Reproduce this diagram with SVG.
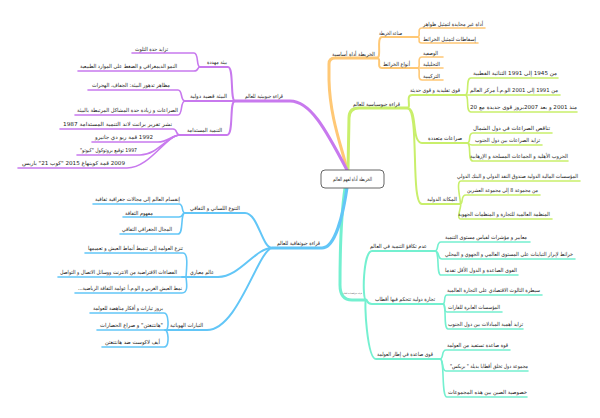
<svg xmlns="http://www.w3.org/2000/svg" width="600" height="418" viewBox="0 0 600 418">
<style>
.t{font-family:"DejaVu Sans","Noto Sans",sans-serif;font-size:5.5px;fill:#222}
.s{font-family:"DejaVu Sans","Noto Sans",sans-serif;font-size:2px;fill:#555}
path{fill:none;stroke-linecap:round;stroke-linejoin:round}
.o{stroke:#ffc875}.g{stroke:#c9ef6b}.c{stroke:#74f0d0}.b{stroke:#62c6f7}.p{stroke:#c879ee}
.w3{stroke-width:3}.w2{stroke-width:2}.w1{stroke-width:1.6}
</style>
<rect width="600" height="418" fill="#fff"/>
<g id="connectors">
<path class="o w3" d="M347,170 C343,150 330,120 329,80 L329,64 Q329,58 335,58 L377,58"/>
<path class="o w2" d="M377,58 C382,58 376,37 382,37 L417,37"/>
<path class="o w2" d="M377,58 C382,58 376,68 382,68 L417,68"/>
<path class="o w1" d="M417,37 C422,37 416,28 422,28 L485,28"/>
<path class="o w1" d="M417,37 C422,37 416,43 422,43 L478,43"/>
<path class="o w1" d="M417,68 C422,68 416,57 422,57 L443,57"/>
<path class="o w1" d="M417,68 L443,68"/>
<path class="o w1" d="M417,68 C422,68 416,80 422,80 L443,80"/>
<path class="g w3" d="M348,170 L349,118 Q349,108 359,108 L407,108"/>
<path class="g w2" d="M407,108 C412,108 405,95 412,95 L465,95"/>
<path class="g w2" d="M407,108 C418,108 411,143 422,143 L467,143"/>
<path class="g w2" d="M407,108 C420,108 410,204 422,204 L460,204"/>
<path class="g w1" d="M465,95 C470,95 465,78 471,78 L558,78"/>
<path class="g w1" d="M465,95 L560,95"/>
<path class="g w1" d="M465,95 C470,95 465,112 471,112 L577,112"/>
<path class="g w1" d="M467,143 C472,143 467,133 473,133 L552,133"/>
<path class="g w1" d="M467,143 C470,143 468,145 472,145 L542,145"/>
<path class="g w1" d="M467,143 C472,143 467,161 473,161 L568,161"/>
<path class="g w1" d="M460,204 C462,204 455,181 461,181 L580,181"/>
<path class="g w1" d="M460,204 C464,204 460,195 466,195 L540,195"/>
<path class="g w1" d="M460,204 C463,204 455,219 461,219 L552,219"/>
<path class="c w3" d="M345,188 C341,215 340,250 340,285 Q340,300 352,300 L366,300"/>
<path class="c w2" d="M366,300 C362,300 363,251 372,251 L435,251"/>
<path class="c w2" d="M366,300 C368,300 366,304 372,304 L443,304"/>
<path class="c w2" d="M366,300 C364,300 367,359 376,359 L440,359"/>
<path class="c w1" d="M435,251 C439,251 436,242 441,242 L530,242"/>
<path class="c w1" d="M435,251 C440,251 437,259 442,259 L575,259"/>
<path class="c w1" d="M435,251 C440,251 436,275 441,275 L518,275"/>
<path class="c w1" d="M443,304 C446,304 443,295 447,295 L542,295"/>
<path class="c w1" d="M443,304 C446,304 443,312 447,312 L502,312"/>
<path class="c w1" d="M443,304 C447,304 443,329 448,329 L523,329"/>
<path class="c w1" d="M440,359 C444,359 441,350 446,350 L510,350"/>
<path class="c w1" d="M440,359 C444,359 441,371 446,371 L528,371"/>
<path class="c w1" d="M440,359 C445,359 441,397 447,397 L527,397"/>
<path class="b w3" d="M347,188 C343,215 335,248 322,248 L272,248"/>
<path class="b w2" d="M272,248 C262,248 258,213 245,213 L185,213"/>
<path class="b w2" d="M272,248 C255,248 240,277 218,277 L182,277"/>
<path class="b w2" d="M272,248 C258,250 238,330 207,330 L165,330"/>
<path class="b w1" d="M185,213 C181,213 184,204 179,204 L93,204"/>
<path class="b w1" d="M185,213 C181,213 184,217 179,217 L123,217"/>
<path class="b w1" d="M185,213 C180,213 184,234 178,234 L120,234"/>
<path class="b w1" d="M186,277 C187,265 188,253 183,253 L85,253"/>
<path class="b w1" d="M186,277 L58,277"/>
<path class="b w1" d="M186,277 C187,285 188,293 182,293 L75,293"/>
<path class="b w1" d="M166,330 C169,330 169,313 164,313 L90,313"/>
<path class="b w1" d="M166,330 L97,330"/>
<path class="b w1" d="M166,330 C169,335 169,347 164,347 L102,347"/>
<path class="p w3" d="M347,170 C325,128 310,101 290,101 L235,101"/>
<path class="p w2" d="M235,101 C230,101 234,67 228,67 L200,67"/>
<path class="p w2" d="M235,101 L185,101"/>
<path class="p w2" d="M235,101 C229,101 234,135 227,135 L180,135"/>
<path class="p w1" d="M200,67 C196,67 199,53 194,53 L132,53"/>
<path class="p w1" d="M200,67 C197,67 199,71 194,71 L78,71"/>
<path class="p w1" d="M185,101 C180,101 183,90 178,90 L88,90"/>
<path class="p w1" d="M185,101 C180,101 183,115 178,115 L75,115"/>
<path class="p w1" d="M180,135 C175,135 178,129 173,129 L60,129"/>
<path class="p w1" d="M180,135 C172,135 168,142 158,142 L92,142"/>
<path class="p w1" d="M180,135 C168,135 158,155 140,155 L77,155"/>
<path class="p w1" d="M180,135 C166,135 150,168 127,168 L18,168"/>
</g>
<g id="center">
<rect x="321" y="170" width="63" height="18" rx="4" fill="#fff" stroke="#666" stroke-width="1"/>
<text class="t" x="333" y="181" textLength="39" lengthAdjust="spacingAndGlyphs">الخريطة أداة لفهم العالم</text>
</g>
<g id="orange-nodes">
<g id="n-o0"><text class="t" x="332" y="56" textLength="43" lengthAdjust="spacingAndGlyphs">الخريطة أداة أساسية</text></g>
<g id="n-o1"><text class="t" x="379" y="35" textLength="23" lengthAdjust="spacingAndGlyphs">صناعة الخريطة</text></g>
<g id="n-o2"><text class="t" x="383" y="66" textLength="27" lengthAdjust="spacingAndGlyphs">أنواع الخرائط</text></g>
<g id="n-o3"><text class="t" x="423" y="26" textLength="60" lengthAdjust="spacingAndGlyphs">أداة غير محايدة لتمثيل ظواهر</text></g>
<g id="n-o4"><text class="t" x="423" y="41" textLength="53" lengthAdjust="spacingAndGlyphs">إسقاطات لتمثيل الخرائط</text></g>
<g id="n-o5"><text class="t" x="423" y="55" textLength="15" lengthAdjust="spacingAndGlyphs">الوصفية</text></g>
<g id="n-o6"><text class="t" x="423" y="66" textLength="17" lengthAdjust="spacingAndGlyphs">التحليلية</text></g>
<g id="n-o7"><text class="t" x="423" y="78" textLength="17" lengthAdjust="spacingAndGlyphs">التركيبية</text></g>
</g>
<g id="green-nodes">
<g id="n-g0"><text class="t" x="353" y="106" textLength="47" lengthAdjust="spacingAndGlyphs">قراءة جيوسياسية للعالم</text></g>
<g id="n-g1"><text class="t" x="410" y="92" textLength="50" lengthAdjust="spacingAndGlyphs">قوى تقليدية و قوى حديثة</text></g>
<g id="n-g2"><text class="t" x="428" y="140" textLength="34" lengthAdjust="spacingAndGlyphs">صراعات متعددة</text></g>
<g id="n-g3"><text class="t" x="427" y="201" textLength="30" lengthAdjust="spacingAndGlyphs">المكانة الدولية</text></g>
<g id="n-g4"><text class="t" x="473" y="75" textLength="84" lengthAdjust="spacingAndGlyphs">&#x200F;من  1945 إلى  1991 الثنائية القطبية&#x200F;</text></g>
<g id="n-g5"><text class="t" x="470" y="91.5" textLength="88" lengthAdjust="spacingAndGlyphs">&#x200F;من 1991 إلى 2001 الو.م.أ مركز العالم&#x200F;</text></g>
<g id="n-g6"><text class="t" x="470" y="109" textLength="107" lengthAdjust="spacingAndGlyphs">&#x200F;منذ 2001 و بعد  2007بروز قوى جديدة  مع 20&#x200F;</text></g>
<g id="n-g7"><text class="t" x="473" y="130" textLength="77" lengthAdjust="spacingAndGlyphs">تناقص الصراعات  في دول الشمال</text></g>
<g id="n-g8"><text class="t" x="475" y="142" textLength="65" lengthAdjust="spacingAndGlyphs">تزايد الصراعات بين دول الجنوب</text></g>
<g id="n-g9"><text class="t" x="470" y="158" textLength="98" lengthAdjust="spacingAndGlyphs">الحروب الأهلية و الجماعات المسلحة و الإرهابية</text></g>
<g id="n-g10"><text class="t" x="457" y="178" textLength="121" lengthAdjust="spacingAndGlyphs">المؤسسات المالية الدولية  صندوق النقد الدولي و البنك الدولي</text></g>
<g id="n-g11"><text class="t" x="467" y="192" textLength="71" lengthAdjust="spacingAndGlyphs">&#x200F;من مجموعة 8 إلى مجموعة العشرين&#x200F;</text></g>
<g id="n-g12"><text class="t" x="458" y="216" textLength="92" lengthAdjust="spacingAndGlyphs">المنظمة العالمية للتجارة و المنظمات الجهوية</text></g>
</g>
<g id="teal-nodes">
<g id="n-c0"><text class="s" x="343" y="294" textLength="19" lengthAdjust="spacingAndGlyphs">قراءة جيواقتصادية للعالم</text></g>
<g id="n-c1"><text class="t" x="370" y="248" textLength="57" lengthAdjust="spacingAndGlyphs">عدم تكافؤ التنمية  في العالم</text></g>
<g id="n-c2"><text class="t" x="375" y="301" textLength="60" lengthAdjust="spacingAndGlyphs">تجارة دولية تتحكم فيها أقطاب</text></g>
<g id="n-c3"><text class="t" x="377" y="356" textLength="56" lengthAdjust="spacingAndGlyphs">قوى صاعدة في إطار العولمة</text></g>
<g id="n-c4"><text class="t" x="445" y="239" textLength="82" lengthAdjust="spacingAndGlyphs">معايير و مؤشرات لقياس  مستوى التنمية</text></g>
<g id="n-c5"><text class="t" x="445" y="256" textLength="128" lengthAdjust="spacingAndGlyphs">خرائط لإبراز التباينات على المستوى العالمي و الجهوي و المحلي</text></g>
<g id="n-c6"><text class="t" x="445" y="272" textLength="72" lengthAdjust="spacingAndGlyphs">القوى الصاعدة و الدول الأقل تقدما</text></g>
<g id="n-c7"><text class="t" x="447" y="292" textLength="93" lengthAdjust="spacingAndGlyphs">سيطرة الثالوث الاقتصادي على التجارة العالمية</text></g>
<g id="n-c8"><text class="t" x="448" y="309" textLength="52" lengthAdjust="spacingAndGlyphs">المؤسسات العابرة للقارات</text></g>
<g id="n-c9"><text class="t" x="448" y="326" textLength="75" lengthAdjust="spacingAndGlyphs">تزايد أهمية المبادلات بين دول الجنوب</text></g>
<g id="n-c10"><text class="t" x="447" y="347" textLength="61" lengthAdjust="spacingAndGlyphs">قوة صاعدة تستفيد من العولمة</text></g>
<g id="n-c11"><text class="t" x="450" y="368" textLength="78" lengthAdjust="spacingAndGlyphs">&#x200F;مجموعة دول تخلق أقطابا بديلة  " بريكس"&#x200F;</text></g>
<g id="n-c12"><text class="t" x="448" y="394" textLength="79" lengthAdjust="spacingAndGlyphs">خصوصية الصين بين هذه المجموعات</text></g>
</g>
<g id="blue-nodes">
<g id="n-b0"><text class="t" x="277" y="245" textLength="43" lengthAdjust="spacingAndGlyphs">قراءة جيوثقافية للعالم</text></g>
<g id="n-b1"><text class="t" x="190" y="210" textLength="50" lengthAdjust="spacingAndGlyphs">التنوع اللساني و الثقافي</text></g>
<g id="n-b2"><text class="t" x="190" y="274" textLength="24" lengthAdjust="spacingAndGlyphs">عالم  معياري</text></g>
<g id="n-b3"><text class="t" x="170" y="327" textLength="33" lengthAdjust="spacingAndGlyphs">التيارات الهوياتية</text></g>
<g id="n-b4"><text class="t" x="95" y="201" textLength="85" lengthAdjust="spacingAndGlyphs">إنقسام العالم إلى مجالات جغرافية ثقافية</text></g>
<g id="n-b5"><text class="t" x="125" y="214.5" textLength="28" lengthAdjust="spacingAndGlyphs">مفهوم الثقافة</text></g>
<g id="n-b6"><text class="t" x="122" y="231" textLength="50" lengthAdjust="spacingAndGlyphs">المجال الجغرافي الثقافي</text></g>
<g id="n-b7"><text class="t" x="88" y="250" textLength="95" lengthAdjust="spacingAndGlyphs">تنزع العولمة إلى تنميط أنماط العيش  و تعميمها</text></g>
<g id="n-b8"><text class="t" x="60" y="273.5" textLength="117" lengthAdjust="spacingAndGlyphs">الفضاءات الافتراضية من الانترنت ووسائل الاتصال و التواصل</text></g>
<g id="n-b9"><text class="t" x="78" y="290" textLength="104" lengthAdjust="spacingAndGlyphs">&#x200F;نمط العيش  الغربي و الو.م.أ عولمة الثقافة الرياضية...&#x200F;</text></g>
<g id="n-b10"><text class="t" x="93" y="310" textLength="70" lengthAdjust="spacingAndGlyphs">بروز تيارات و أفكار مناهضة للعولمة</text></g>
<g id="n-b11"><text class="t" x="100" y="327" textLength="63" lengthAdjust="spacingAndGlyphs">&#x200F;"هانتنغتن" و صراع الحضارات&#x200F;</text></g>
<g id="n-b12"><text class="t" x="105" y="344" textLength="55" lengthAdjust="spacingAndGlyphs">أيف لاكوست  ضد هانتنغتن</text></g>
</g>
<g id="purple-nodes">
<g id="n-p0"><text class="t" x="245" y="98" textLength="38" lengthAdjust="spacingAndGlyphs">قراءة جيوبيئية للعالم</text></g>
<g id="n-p1"><text class="t" x="207" y="64" textLength="20" lengthAdjust="spacingAndGlyphs">بيئة مهددة</text></g>
<g id="n-p2"><text class="t" x="190" y="98" textLength="37" lengthAdjust="spacingAndGlyphs">البيئة قضية دولية</text></g>
<g id="n-p3"><text class="t" x="187" y="132" textLength="35" lengthAdjust="spacingAndGlyphs">التنمية المستدامة</text></g>
<g id="n-p4"><text class="t" x="135" y="50.5" textLength="33" lengthAdjust="spacingAndGlyphs">تزايد حدة التلوث</text></g>
<g id="n-p5"><text class="t" x="80" y="68" textLength="97" lengthAdjust="spacingAndGlyphs">النمو الديمغرافي و الضغط على الموارد الطبيعية</text></g>
<g id="n-p6"><text class="t" x="92" y="87" textLength="78" lengthAdjust="spacingAndGlyphs">مظاهر تدهور البيئة: الجفاف، الهجرات</text></g>
<g id="n-p7"><text class="t" x="77" y="112" textLength="101" lengthAdjust="spacingAndGlyphs">الصراعات و زيادة حدة المشاكل المرتبطة بالبيئة</text></g>
<g id="n-p8"><text class="t" x="63" y="126" textLength="109" lengthAdjust="spacingAndGlyphs">&#x200F;نشر تقرير برانت لاند  التنمية المستدامة 1987&#x200F;</text></g>
<g id="n-p9"><text class="t" x="95" y="139" textLength="58" lengthAdjust="spacingAndGlyphs">&#x200F;1992  قمة ريو دي جانيرو&#x200F;</text></g>
<g id="n-p10"><text class="t" x="80" y="152" textLength="57" lengthAdjust="spacingAndGlyphs">&#x200F;1997 توقيع بروتوكول "كيوتو"&#x200F;</text></g>
<g id="n-p11"><text class="t" x="22" y="165" textLength="103" lengthAdjust="spacingAndGlyphs">&#x200F;2009 قمة كوبنهاغ   2015 "كوب 21"  باريس&#x200F;</text></g>
</g>
</svg>
